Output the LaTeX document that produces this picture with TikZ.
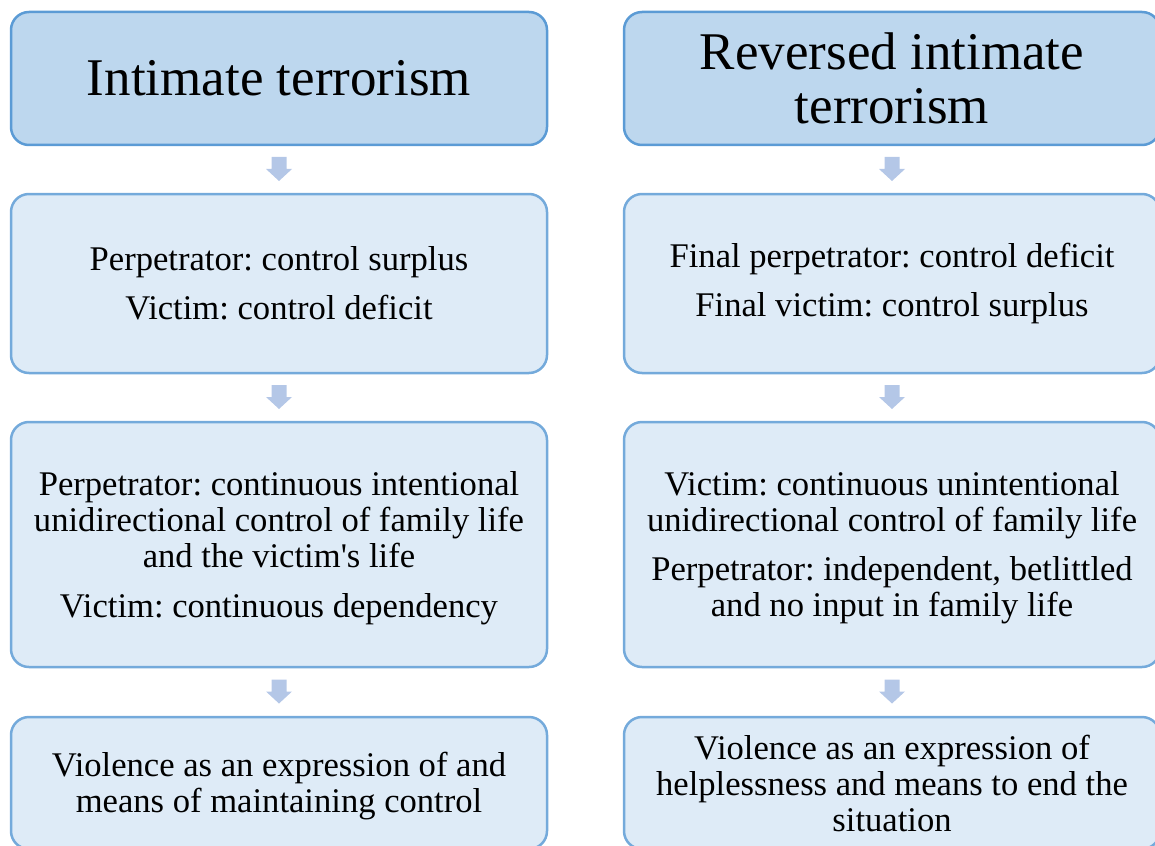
\documentclass[tikz,border=0pt]{standalone}
\usepackage{fontspec}
\setmainfont{Liberation Serif}[Ligatures=TeXOff]
\frenchspacing
\usetikzlibrary{calc}
\definecolor{titlefill}{HTML}{BDD7EE}
\definecolor{boxfill}{HTML}{DEEBF7}
\definecolor{boxline}{HTML}{5B9BD5}
\definecolor{arrowfill}{HTML}{B4C7E7}
\newcommand{\lowerby}{\rule{0pt}{31pt}}
\tikzset{
  titlebox/.style={draw=boxline, fill=titlefill, line width=2.5pt, rounded corners=18pt,
    minimum width=536pt, align=center, inner sep=0pt,
    font=\fontsize{53}{54}\selectfont},
  bodybox/.style={draw=boxline!85, fill=boxfill, line width=2.5pt, rounded corners=18pt,
    minimum width=536pt, align=center, inner sep=0pt,
    font=\frenchspacing\fontsize{34.6}{36}\selectfont},
  pics/blockarrow/.style={code={
    \fill[arrowfill] (-7.5,-12.5) -- (7.5,-12.5) -- (7.5,-0.5) -- (13,-0.5) -- (0,11.5)
      -- (-13,-0.5) -- (-7.5,-0.5) -- cycle;}}
}
\begin{document}
\begin{tikzpicture}[x=1pt,y=-1pt]
\useasboundingbox (0,0) rectangle (1155,845);
\clip (0,0) rectangle (1155,845);
% left column
\node[titlebox, minimum height=133pt] (l1) at (279,78.5) {Intimate terrorism};
\node[bodybox, minimum height=179pt] (l2) at (279,283.5) {Perpetrator: control surplus\\[13pt] Victim: control deficit};
\node[bodybox, minimum height=245pt] (l3) at (279,544.5) {\lowerby Perpetrator: continuous intentional\\ unidirectional control of family life\\ and the victim's life\\[14pt] Victim: continuous dependency};
\node[bodybox, minimum height=132pt] (l4) at (279,783) {\lowerby Violence as an expression of and\\ means of maintaining control};
% right column
\node[titlebox, minimum height=133pt] (r1) at (892,78.5) {Reversed intimate\\ terrorism};
\node[bodybox, minimum height=179pt] (r2) at (892,283.5) {Final perpetrator: control deficit\\[13pt] Final victim: control surplus};
\node[bodybox, minimum height=245pt] (r3) at (892,544.5) {\lowerby Victim: continuous unintentional\\ unidirectional control of family life\\[13pt] Perpetrator: independent, betlittled\\ and no input in family life};
\node[bodybox, minimum height=132pt] (r4) at (892,783) {Violence as an expression of\\ helplessness and means to end the\\ situation};
% arrows
\foreach \a/\b in {l1/l2,l2/l3,l3/l4,r1/r2,r2/r3,r3/r4}{
  \coordinate (m-\a) at ($(\a.south)!0.5!(\b.north)$);
  \pic at (m-\a) {blockarrow};
}
\end{tikzpicture}
\end{document}
